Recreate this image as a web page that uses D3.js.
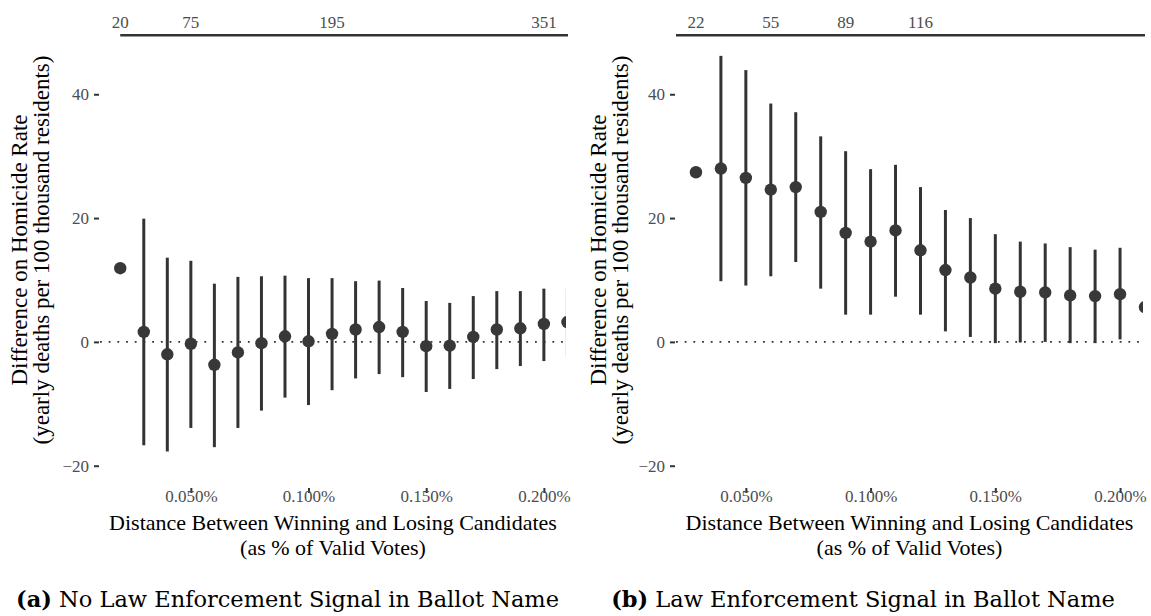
<!DOCTYPE html>
<html>
<head>
<meta charset="utf-8">
<script src="https://cdn.jsdelivr.net/npm/d3@7/dist/d3.min.js"></script>
<style>
body{margin:0;background:#fff;}
svg text{font-family:"Liberation Serif","Times New Roman",serif;}
.tick text{fill:#4d4d4d;font-size:17px;font-family:"Liberation Serif","Times New Roman",serif;}
.tick line{stroke:#333;stroke-width:2;}
.toplab{fill:#4d4d4d;font-size:17px;}
.atitle{fill:#000;font-size:22px;}
.ytitle{fill:#000;font-size:23px;}
.caption{font-family:"DejaVu Serif",serif !important;font-size:22.5px;fill:#000;}
</style>
</head>
<body>
<div id="chart"></div>
<script>
// panel (a): no law enforcement signal
var distA = [0.02, 0.03, 0.04, 0.05, 0.06, 0.07, 0.08, 0.09, 0.10, 0.11, 0.12, 0.13, 0.14, 0.15, 0.16, 0.17, 0.18, 0.19, 0.20, 0.21];
var estA  = [11.9, 1.6, -2.0, -0.3, -3.7, -1.7, -0.2, 0.9, 0.1, 1.3, 2.0, 2.4, 1.6, -0.7, -0.6, 0.8, 2.0, 2.2, 2.9, 3.2];
var loA   = [null, -16.7, -17.7, -13.9, -17.0, -13.9, -11.1, -9.0, -10.2, -7.8, -5.9, -5.2, -5.7, -8.1, -7.6, -6.0, -4.4, -3.9, -3.1, -2.4];
var hiA   = [null, 19.9, 13.6, 13.1, 9.4, 10.5, 10.6, 10.7, 10.3, 10.3, 9.8, 9.9, 8.7, 6.6, 6.3, 7.4, 8.2, 8.2, 8.6, 8.6];
var topDistA = [0.02, 0.05, 0.11, 0.20];
var topNA    = ["20", "75", "195", "351"];

// panel (b): law enforcement signal
var distB = [0.03, 0.04, 0.05, 0.06, 0.07, 0.08, 0.09, 0.10, 0.11, 0.12, 0.13, 0.14, 0.15, 0.16, 0.17, 0.18, 0.19, 0.20, 0.21];
var estB  = [27.4, 28.0, 26.5, 24.6, 25.0, 21.0, 17.6, 16.2, 18.0, 14.8, 11.6, 10.4, 8.6, 8.1, 8.0, 7.5, 7.4, 7.7, 5.6];
var loB   = [null, 9.8, 9.1, 10.6, 12.9, 8.6, 4.4, 4.4, 7.3, 4.4, 1.7, 0.8, -0.2, -0.1, 0.0, -0.2, -0.2, 0.4, -0.5];
var hiB   = [null, 46.2, 43.9, 38.5, 37.1, 33.2, 30.8, 27.9, 28.6, 25.0, 21.3, 20.0, 17.4, 16.2, 15.9, 15.3, 14.9, 15.2, 12.5];
var topDistB = [0.03, 0.06, 0.09, 0.12];
var topNB    = ["22", "55", "89", "116"];

var xTicks = [0.05, 0.10, 0.15, 0.20];
var yTicks = [-20, 0, 20, 40];
var yTitle = ["Difference on Homicide Rate", "(yearly deaths per 100 thousand residents)"];
var xTitle = ["Distance Between Winning and Losing Candidates", "(as % of Valid Votes)"];
var capTags = ["(a)", "(b)"];
var capTexts = [" No Law Enforcement Signal in Ballot Name", " Law Enforcement Signal in Ballot Name"];

function init(){
    var w = 1151;
    var h = 616;
    var top = 28, bottom = 488;
    var serif = "Liberation Serif, Times New Roman, serif";

    var svg = d3.select("#chart")
            .append("svg")
            .attr("width", w)
            .attr("height", h)
            .attr("font-family", serif);

    var yScale = d3.scaleLinear()
            .domain([-23.6, 50.7])
            .range([bottom, top]);

    var panels = [
        {left:100, right:566, domain:[0.0114, 0.2094], dist:distA, est:estA, lo:loA, hi:hiA,
         topDist:topDistA, topN:topNA, topStart:0.02, titleX:27, capX:287.5},
        {left:676, right:1143, domain:[0.022, 0.2092], dist:distB, est:estB, lo:loB, hi:hiB,
         topDist:topDistB, topN:topNB, topStart:0.022, titleX:606, capX:863}
    ];

    panels.forEach(function(p, k){
        var xScale = d3.scaleLinear()
                .domain(p.domain)
                .range([p.left, p.right]);

        var data = p.dist.map(function(d, i){
            return {dist:d, est:p.est[i], lo:p.lo[i], hi:p.hi[i]};
        });

        svg.append("clipPath")
            .attr("id", "clip" + k)
            .append("rect")
            .attr("x", p.left)
            .attr("y", top)
            .attr("width", p.right - p.left)
            .attr("height", bottom - top);

        var g = svg.append("g").attr("clip-path", "url(#clip" + k + ")");

        // zero reference
        g.append("line")
            .attr("x1", p.left)
            .attr("x2", p.right)
            .attr("y1", yScale(0))
            .attr("y2", yScale(0))
            .attr("stroke", "#333")
            .attr("stroke-width", 1.8)
            .style("stroke-dasharray", ("1.8, 6.9"));

        g.selectAll(".ci")
            .data(data.filter(function(d){ return d.lo !== null; }))
            .enter()
            .append("line")
            .attr("class", "ci")
            .attr("x1", function(d){ return xScale(d.dist); })
            .attr("x2", function(d){ return xScale(d.dist); })
            .attr("y1", function(d){ return yScale(d.lo); })
            .attr("y2", function(d){ return yScale(d.hi); })
            .attr("stroke", "#333")
            .attr("stroke-width", 3);

        g.selectAll(".pt")
            .data(data)
            .enter()
            .append("circle")
            .attr("class", "pt")
            .attr("cx", function(d){ return xScale(d.dist); })
            .attr("cy", function(d){ return yScale(d.est); })
            .attr("r", 6.2)
            .attr("fill", "#383838");

        // sample size axis on top
        svg.append("line")
            .attr("x1", xScale(p.topStart))
            .attr("x2", p.right + 2)
            .attr("y1", 35.3)
            .attr("y2", 35.3)
            .attr("stroke", "#333")
            .attr("stroke-width", 2.5);

        svg.selectAll(".toplab" + k)
            .data(p.topDist)
            .enter()
            .append("text")
            .attr("class", "toplab")
            .attr("x", function(d){ return xScale(d); })
            .attr("y", 27.5)
            .attr("text-anchor", "middle")
            .text(function(d, i){ return p.topN[i]; });

        var xAxis = d3.axisBottom()
                .scale(xScale)
                .tickValues(xTicks)
                .tickSize(5)
                .tickPadding(-3)
                .tickFormat(function(d){ return d3.format(".3f")(d) + "%"; });

        var yAxis = d3.axisLeft()
                .scale(yScale)
                .tickValues(yTicks)
                .tickSize(5)
                .tickPadding(5);

        svg.append("g")
            .attr("transform", "translate(0," + bottom + ")")
            .call(xAxis)
            .attr("font-family", serif)
            .attr("font-size", null)
            .call(function(a){ a.select(".domain").remove(); });

        svg.append("g")
            .attr("transform", "translate(" + (p.left - 1) + ",0)")
            .call(yAxis)
            .attr("font-family", serif)
            .attr("font-size", null)
            .call(function(a){ a.select(".domain").remove(); });

        // axis titles
        var xt = svg.append("text")
            .attr("class", "atitle")
            .attr("text-anchor", "middle");
        xTitle.forEach(function(t, i){
            xt.append("tspan")
                .attr("x", (p.left + p.right) / 2)
                .attr("y", 530 + i * 24.5)
                .text(t);
        });

        var yt = svg.append("text")
            .attr("class", "ytitle")
            .attr("text-anchor", "middle")
            .attr("transform", "translate(" + p.titleX + ",250) rotate(-90)");
        yTitle.forEach(function(t, i){
            yt.append("tspan")
                .attr("x", 0)
                .attr("y", i * 21.5)
                .text(t);
        });

        // sub-figure caption
        var cap = svg.append("text")
            .attr("class", "caption")
            .attr("x", p.capX)
            .attr("y", 607)
            .attr("text-anchor", "middle");
        cap.append("tspan").attr("font-weight", "bold").text(capTags[k]);
        cap.append("tspan").text(capTexts[k]);
    });
}

window.onload = init;
</script>
</body>
</html>
